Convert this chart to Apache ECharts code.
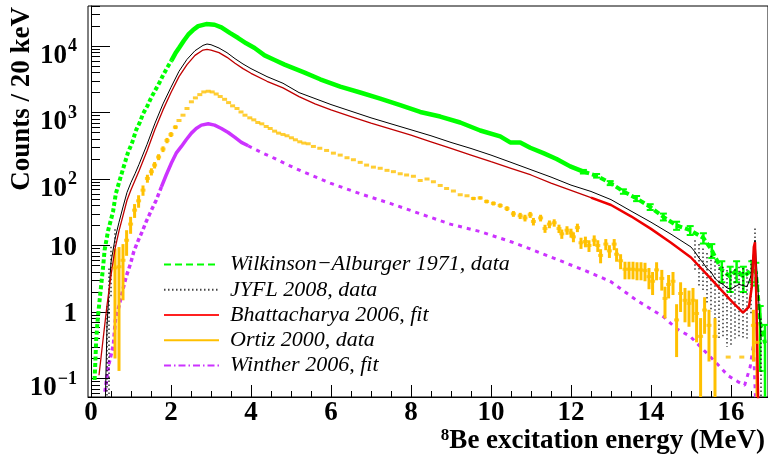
<!DOCTYPE html>
<html><head><meta charset="utf-8">
<script src="https://cdn.jsdelivr.net/npm/echarts@6/dist/echarts.min.js"></script>
<style>html,body{margin:0;padding:0;background:#fff}#c{width:768px;height:464px}</style>
</head><body><div id="c"></div>
<script>
// ---------------- DATA ----------------
const legendNames = ['Wilkinson\u2212Alburger 1971, data','JYFL 2008, data','Bhattacharya 2006, fit','Ortiz 2000, data','Winther 2006, fit'];

const greenE = [0.09,0.11,0.13,0.16,0.19,0.24,0.30,0.34,0.43,0.55,0.62,0.73,0.83,0.92,1.03,1.13,1.22,1.30,1.41,1.51,1.62,1.72,1.80,1.91,2.01,2.11,2.20,2.32,2.43,2.55,2.68,2.88,3.09,3.26,3.47,3.68,3.88,4.09,4.34,4.59,4.84,5.09,5.34,5.73,6.23,6.73,7.23,7.73,8.23,8.73,9.23,9.73,10.23,10.48,10.73,10.98,11.31,11.64,11.98,12.31,12.64,12.98,13.31,13.64,13.98,14.31,14.64,14.98,15.31,15.52,15.77,15.98,16.14,16.31,16.52,16.62,16.73,16.85];
const greenV = [0.095,0.19,0.38,0.68,1.07,2.1,4.6,8.5,17,32,60,102,162,245,355,550,710,955,1260,1700,2240,2880,3630,4790,6030,7760,9330,12000,14800,17400,19950,21400,20900,19100,15800,13200,11000,9330,7240,6170,5250,4570,3980,3160,2450,2000,1620,1290,1020,870,708,537,437,355,355,295,245,200,155,129,112,87,65,51,38,27,20,17,13,8.5,4.3,3.4,4.3,3.4,4.3,4.0,0.68,0.34];
const greenErr = [0,0,0,0,0,0,0,0,0,0,0,0,0,0,0,0,0,0,0,0,0,0,0,0,0,0,0,0,0,0,0,0,0,0,0,0,0,0,0,0,0,0,0,0,0,0,0,0,0,0,0,0,0,0,0,0,0,0,0,8,7,6,5,4.5,3.8,3.2,2.8,2.6,2.3,2.0,1.5,1.4,1.5,1.4,1.5,1.5,0.55,0.3];

const jyflE = [0.36,0.40,0.45,0.50,0.60,0.70,0.80,0.90,1.00,1.10,1.20,1.40,1.60,1.80,2.00,2.20,2.40,2.60,2.80,2.90,3.00,3.20,3.40,3.60,3.80,4.00,4.40,4.80,5.20,5.60,6.00,6.50,7.00,7.50,8.00,8.50,9.00,9.50,10.00,10.50,11.00,11.50,12.00,12.50,13.00,13.50,14.00,14.50,15.00,15.10,15.20,15.30,15.40,15.50,15.60,15.70,15.80,15.90,16.00,16.10,16.20,16.30,16.40,16.50,16.60,16.75];
const jyflV = [0.05,0.63,2.0,5.6,12.6,22.4,38,63,89,120,166,331,692,1349,2399,4169,6310,8511,10230,10720,10470,9333,7943,6457,5370,4571,3467,2754,1995,1622,1318,1047,832,676,550,447,355,288,229,178,138,107,81,65,49,33,22.4,14.8,9.5,8,6.5,5.5,4.5,4,3.2,2.8,2.6,2.3,2.2,2.4,2.6,2.5,2.4,3.5,12,0.4];
const jyflErr = [0,0.6,2.5,4,5,0,0,0,0,0,0,0,0,0,0,0,0,0,0,0,0,0,0,0,0,0,0,0,0,0,0,0,0,0,0,0,0,0,0,0,0,0,0,0,0,0,0,0,0,4,4,3.5,3.2,3,2.6,2.4,2.2,2,1.9,2,2.2,2.1,2,2.6,6,0.4];

const fitBE = [0.20,0.30,0.40,0.50,0.60,0.70,0.80,0.90,1.00,1.20,1.40,1.60,1.80,2.00,2.20,2.40,2.60,2.80,2.90,3.00,3.20,3.40,3.60,3.80,4.00,4.40,4.80,5.20,5.60,6.00,6.50,7.00,7.50,8.00,8.50,9.00,9.50,10.00,10.50,11.00,11.50,12.00,12.50,13.00,13.50,14.00,14.50,15.00,15.50,16.00,16.30,16.45,16.52,16.57,16.60,16.63,16.68];
const fitBV = [0.112,0.38,1.26,3.55,8.9,16.6,28.2,47.9,69.2,132,263,562,1096,1995,3467,5248,7244,8710,8913,8710,7943,6761,5495,4571,3890,2951,2344,1738,1349,1096,871,692,562,457,363,288,229,182,145,115,87,67.6,52.5,40.7,27.5,17.8,11.0,6.6,3.16,1.48,0.98,1.2,2.4,9.5,11.2,2.0,0.04];

const ortizE = [0.60,0.70,0.80,0.89,0.99,1.09,1.19,1.30,1.41,1.51,1.59,1.69,1.80,1.90,2.00,2.11,2.20,2.30,2.40,2.51,2.61,2.72,2.82,2.93,3.03,3.13,3.23,3.34,3.44,3.54,3.65,3.75,3.85,3.97,4.07,4.17,4.27,4.38,4.48,4.59,4.69,4.80,4.90,5.01,5.11,5.22,5.32,5.43,5.56,5.72,5.89,6.06,6.23,6.40,6.56,6.73,6.89,7.06,7.23,7.40,7.56,7.73,7.89,8.06,8.23,8.40,8.56,8.73,8.89,9.06,9.23,9.40,9.56,9.73,9.89,10.06,10.23,10.40,10.56,10.73,10.85,10.98,11.06,11.24,11.35,11.46,11.58,11.70,11.77,11.90,12.00,12.06,12.16,12.25,12.36,12.45,12.58,12.67,12.74,12.87,12.96,13.08,13.14,13.24,13.35,13.45,13.55,13.65,13.75,13.85,13.95,14.04,14.14,14.27,14.35,14.44,14.55,14.64,14.74,14.85,14.95,15.05,15.14,15.24,15.34,15.45,15.60,15.93,16.27,16.56,16.65];
const ortizV = [4.6,4.8,6,12,21,34,47,68,102,129,162,214,282,380,468,603,759,912,1150,1450,1660,1860,2040,2090,2040,1900,1740,1580,1410,1260,1150,1020,912,832,776,708,676,617,575,525,490,468,447,417,389,363,347,339,309,290,269,245,229,209,195,178,162,151,145,135,129,120,115,110,95,100,91,80,72,66,58,56,51,52,46,43,40,36,30,28,26,29,23,26,18,21,22,18,15,17,15.5,13.5,18.6,11,11.5,10,12,10,7.1,10.5,8.3,10.5,7.4,5.9,4.4,4.4,4.4,4.3,4.3,4.2,3.4,2.9,4.3,3.2,1.6,2.6,2.9,0.76,1.9,1.5,1.35,1.5,0.95,0.43,1.07,0.63,0.43,0.21,0.21,0.63,0.35];
const ortizErr = [4.4,4.67,4.5,5,6,8,10,12,14,16,18,22,28,35,40,40,0,0,0,0,0,0,0,0,0,0,0,0,0,0,0,0,0,0,0,0,0,0,0,0,0,0,0,0,0,0,0,0,0,0,0,0,0,0,0,0,0,0,0,0,0,0,0,0,0,0,0,0,0,0,0,0,3,3,3,3,3,3,3,3,3,3,3,3,2.5,2.8,2.8,2.6,2.4,2.5,2.4,2.3,2.7,2.1,2.1,2,2.2,2,1.7,2,1.8,2,1.7,1.5,1.3,1.3,1.3,1.3,1.3,1.3,1.2,1.1,1.3,1.1,0.8,1.0,1.1,0.55,0.9,0.8,0.75,0.8,0.6,0.38,0.6,0.45,0.38,0,0,0.45,0.35];

const fitWE = [0.35,0.43,0.56,0.61,0.70,0.80,0.88,0.99,1.07,1.17,1.28,1.38,1.53,1.63,1.76,1.88,2.01,2.13,2.26,2.38,2.51,2.63,2.76,2.93,3.09,3.26,3.43,3.59,3.76,3.93,4.26,4.59,4.93,5.26,5.98,6.73,7.48,8.23,8.98,9.73,10.48,10.98,11.64,12.31,12.98,13.64,14.31,14.64,14.98,15.31,15.64,15.93,16.18,16.34,16.48,16.56,16.62];
const fitWV = [0.063,0.15,0.32,0.76,1.23,2.2,3.4,5.4,8.1,11.5,16.2,22.9,36,48,76,115,174,245,309,389,490,575,646,676,646,575,501,427,355,316,251,204,162,132,87,60,43,30,21,16.2,11.5,8.9,6.2,4.3,2.9,1.5,0.85,0.56,0.43,0.27,0.17,0.11,0.089,0.079,0.15,0.32,0.04];

const xTickValues = [0,2,4,6,8,10,12,14,16];
const yTickValues = [0.1,1,10,100,1000,10000];
const yTickLabels = ['{b|10}{s|\u22121}','{p|1}','{p|10}','{b|10}{s|2}','{b|10}{s|3}','{b|10}{s|4}'];

// ---------------- CHART ----------------
const X_MIN = -0.075, X_MAX = 16.925, Y_MIN = 0.0527, Y_MAX = 40000;
const xMinor = []; for (let v = 0; v <= 16.5 + 1e-9; v += 0.5) xMinor.push(+v.toFixed(2));
const yMinor = []; for (let e = -2; e <= 4; e++) for (let m = 2; m <= 9; m++) { const v = m * Math.pow(10, e); if (v >= Y_MIN && v <= Y_MAX) yMinor.push(+v.toPrecision(3)); }

const zip = (a, b) => a.map((x, i) => [x, b[i]]);
const between = (arr, lo, hi) => arr.filter(d => d[0] >= lo && d[0] <= hi);
const SERIF = 'Liberation Serif, Times New Roman, serif';

function errBars(E, V, Err, color, width, dash, cap) {
  const data = [];
  E.forEach((e, i) => { if (Err[i] > 0) data.push([e, V[i], Err[i]]); });
  return {
    type: 'custom', silent: true, clip: true, z: 3, data,
    renderItem(params, api) {
      const x = api.value(0), v = api.value(1), er = api.value(2);
      const lo = Math.max(v - er, Y_MIN * 0.5), hi = v + er;
      const p1 = api.coord([x, hi]), p2 = api.coord([x, lo]);
      const ch = [{ type: 'line', shape: { x1: p1[0], y1: p1[1], x2: p2[0], y2: p2[1] }, style: { stroke: color, lineWidth: width, lineDash: dash } }];
      if (cap) {
        ch.push({ type: 'line', shape: { x1: p1[0] - cap, y1: p1[1], x2: p1[0] + cap, y2: p1[1] }, style: { stroke: color, lineWidth: 2 } });
        ch.push({ type: 'line', shape: { x1: p2[0] - cap, y1: p2[1], x2: p2[0] + cap, y2: p2[1] }, style: { stroke: color, lineWidth: 2 } });
      }
      return { type: 'group', children: ch };
    }
  };
}

const greenData = zip(greenE, greenV);
const fitBData = zip(fitBE, fitBV);
const fitWData = zip(fitWE, fitWV);
const hidden = { opacity: 0 };

const chart = echarts.init(document.getElementById('c'), null, { renderer: 'canvas' });
chart.setOption({
  animation: false,
  backgroundColor: '#fff',
  grid: { left: 88, top: 6, right: 0, bottom: 67, show: true, borderColor: '#000', borderWidth: 1, containLabel: false, outerBoundsMode: 'none' },
  legend: {
    data: legendNames, orient: 'vertical', left: 163, top: 252, padding: 0, itemGap: 0,
    itemWidth: 55, itemHeight: 10, selectedMode: false,
    itemStyle: { opacity: 0 },
    textStyle: { fontFamily: SERIF, fontStyle: 'italic', fontSize: 22, color: '#000', lineHeight: 25.2, padding: [0, 0, 0, 6] }
  },
  xAxis: [
    { type: 'value', min: X_MIN, max: X_MAX, position: 'bottom', splitLine: { show: false },
      axisLine: { lineStyle: { color: '#000', width: 1 } },
      axisTick: { inside: true, length: 12, customValues: xTickValues, lineStyle: { color: '#000' } },
      axisLabel: { customValues: xTickValues, fontFamily: SERIF, fontWeight: 'bold', fontSize: 27, color: '#000', margin: 3 } },
    { type: 'value', min: X_MIN, max: X_MAX, position: 'bottom', splitLine: { show: false },
      axisLine: { show: false }, axisLabel: { show: false },
      axisTick: { inside: true, length: 6, customValues: xMinor, lineStyle: { color: '#000' } } }
  ],
  yAxis: [
    { type: 'log', min: Y_MIN, max: Y_MAX, position: 'left', splitLine: { show: false },
      axisLine: { lineStyle: { color: '#000', width: 1 } },
      axisTick: { inside: true, length: 19, customValues: yTickValues, lineStyle: { color: '#000' } },
      axisLabel: { customValues: yTickValues, margin: 11, color: '#000',
        formatter: v => { const k = Math.round(Math.log10(v)); return yTickLabels[k + 1]; },
        rich: {
          p: { fontFamily: SERIF, fontWeight: 'bold', fontSize: 27, color: '#000', padding: [5, 0, 0, 0] },
          b: { fontFamily: SERIF, fontWeight: 'bold', fontSize: 27, color: '#000', padding: [20, 0, 0, 0] },
          s: { fontFamily: SERIF, fontWeight: 'bold', fontSize: 18, color: '#000', verticalAlign: 'top', padding: [15, 0, 0, 1] }
        } } },
    { type: 'log', min: Y_MIN, max: Y_MAX, position: 'left', splitLine: { show: false },
      axisLine: { show: false }, axisLabel: { show: false },
      axisTick: { inside: true, length: 9, customValues: yMinor, lineStyle: { color: '#000' } } }
  ],
  graphic: [
    { type: 'text', x: 22, y: 7, rotation: Math.PI / 2,
      style: { text: 'Counts / 20 keV', font: 'bold 27px ' + SERIF, fill: '#000', align: 'right', verticalAlign: 'middle' } },
    { type: 'text', x: 765, y: 441,
      style: { text: '{s|8}{b|Be excitation energy (MeV)}', align: 'right', verticalAlign: 'middle',
        rich: { s: { font: 'bold 17px ' + SERIF, fill: '#000', verticalAlign: 'top' }, b: { font: 'bold 27px ' + SERIF, fill: '#000' } } } }
  ],
  series: [
    // legend entries
    { name: legendNames[0], type: 'line', data: [], symbol: 'none', lineStyle: { color: '#00ff00', width: 3, type: [7, 4] }, itemStyle: hidden },
    { name: legendNames[1], type: 'line', data: [], symbol: 'none', lineStyle: { color: '#444', width: 1, type: [1.5, 2.5] }, itemStyle: hidden },
    { name: legendNames[2], type: 'line', data: [], symbol: 'none', lineStyle: { color: '#ff2020', width: 1.5 }, itemStyle: hidden },
    { name: legendNames[3], type: 'line', data: [], symbol: 'none', lineStyle: { color: '#ffc000', width: 3 }, itemStyle: hidden },
    { name: legendNames[4], type: 'line', data: [], symbol: 'none', lineStyle: { color: '#cc33ff', width: 1.5, type: [7, 3, 1.5, 3] }, itemStyle: hidden },
    // plotted data
    { name: 'g1', type: 'line', data: between(greenData, 0, 2.01), symbol: 'none', z: 2, lineStyle: { color: '#00ff00', width: 4, type: [4, 2.5] } },
    { name: 'g2', type: 'line', data: between(greenData, 2.01, 12.31), symbol: 'none', z: 2, lineStyle: { color: '#00ff00', width: 4.5 } },
    { name: 'g3', type: 'line', data: between(greenData, 12.31, 17), symbol: 'none', z: 2, lineStyle: { color: '#00ff00', width: 4, type: [6, 3] } },
    errBars(greenE, greenV, greenErr, '#00ff00', 2.5, null, 3.5),
    { name: 'k', type: 'line', data: zip(jyflE, jyflV), symbol: 'none', z: 3, lineStyle: { color: '#000', width: 1 } },
    errBars(jyflE, jyflV, jyflErr, '#000', 1.2, [1.5, 2.5], 0),
    { name: 'r1', type: 'line', data: between(fitBData, 0, 12.5), symbol: 'none', z: 4, lineStyle: { color: '#c00000', width: 1.3 } },
    { name: 'r2', type: 'line', data: between(fitBData, 12.5, 17), symbol: 'none', z: 4, lineStyle: { color: '#ee0000', width: 2.5 } },
    { name: 'o', type: 'scatter', data: zip(ortizE, ortizV), symbol: 'rect', symbolSize: [5, 3], z: 4, itemStyle: { color: '#ffc000' } },
    errBars(ortizE, ortizV, ortizErr, '#ffc000', 3, null, 0),
    { name: 'm0', type: 'line', data: between(fitWData, 0, 1.76), symbol: 'none', z: 2, lineStyle: { color: '#cc33ff', width: 3.5, type: [4, 3] } },
    { name: 'm1', type: 'line', data: between(fitWData, 1.76, 3.93), symbol: 'none', z: 2, lineStyle: { color: '#cc33ff', width: 3.5 } },
    { name: 'm2', type: 'line', data: between(fitWData, 3.93, 17), symbol: 'none', z: 2, lineStyle: { color: '#cc33ff', width: 3, type: [4, 5] } }
  ]
});
</script>
</body></html>
